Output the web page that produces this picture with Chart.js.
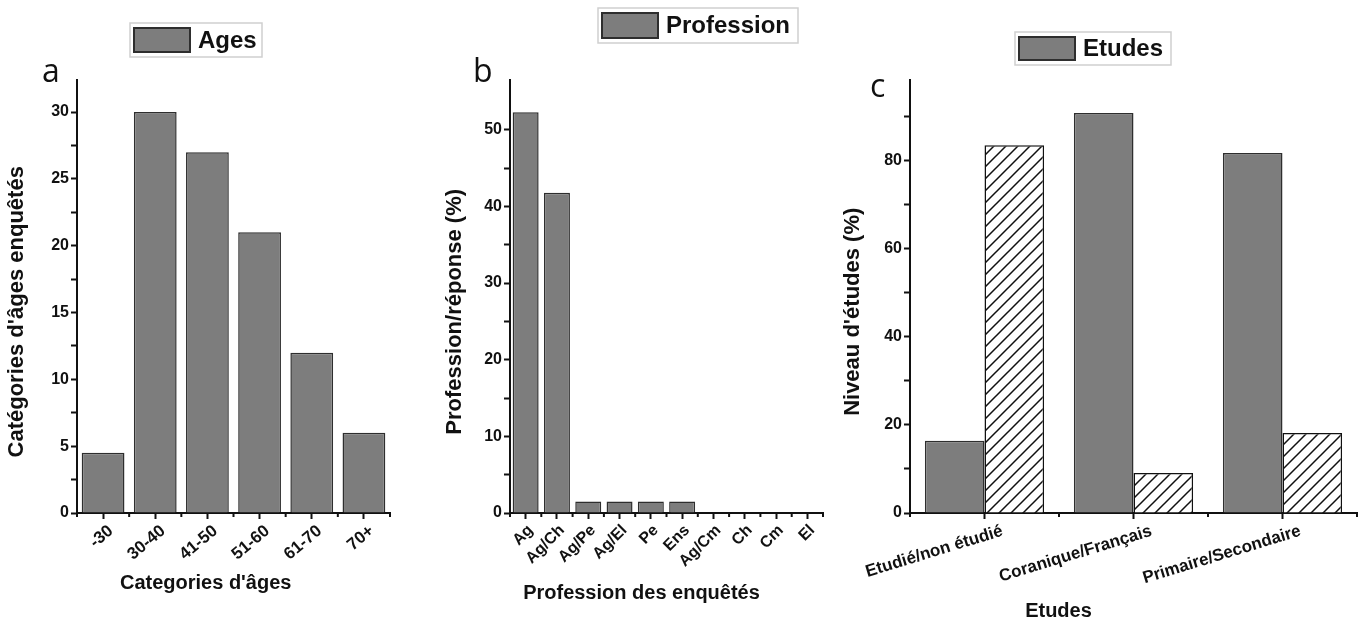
<!DOCTYPE html>
<html>
<head>
<meta charset="utf-8">
<script src="https://cdn.jsdelivr.net/npm/chart.js@4/dist/chart.umd.min.js"></script>
<style>
  html, body { margin: 0; padding: 0; background: #fff; }
  body { width: 1362px; height: 623px; position: relative; overflow: hidden; }
  .panel { position: absolute; top: 0; height: 623px; }
</style>
</head>
<body>
<div class="panel" style="left:0px;width:440px"><canvas id="ca"></canvas></div>
<div class="panel" style="left:440px;width:410px"><canvas id="cb"></canvas></div>
<div class="panel" style="left:840px;width:522px"><canvas id="cc"></canvas></div>
<script>
// ---------- DATA ----------
const ageCategories = ['-30', '30-40', '41-50', '51-60', '61-70', '70+'];
const ageValues = [4.5, 30, 27, 21, 12, 6];

const professionCategories = ['Ag', 'Ag/Ch', 'Ag/Pe', 'Ag/El', 'Pe', 'Ens', 'Ag/Cm', 'Ch', 'Cm', 'El'];
const professionValues = [52.3, 41.8, 1.5, 1.5, 1.5, 1.5, 0, 0, 0, 0];

const etudesCategories = ['Etudié/non étudié', 'Coranique/Français', 'Primaire/Secondaire'];
const etudesFirst = [16.4, 90.9, 81.8];
const etudesSecond = [83.6, 9.1, 18.2];

// ---------- STYLE ----------
const FONT = '"Liberation Sans", Arial, sans-serif';
const GRAY = '#7d7d7d';
const EDGE = '#2e2e2e';
const pad = (n) => ' '.repeat(n);

function hatchPattern() {
  const c = document.createElement('canvas');
  c.width = 12; c.height = 12;
  const g = c.getContext('2d');
  g.fillStyle = '#fff'; g.fillRect(0, 0, 12, 12);
  g.strokeStyle = '#111'; g.lineWidth = 1.5;
  g.beginPath();
  g.moveTo(-3, 15); g.lineTo(15, -3);
  g.moveTo(-3, 3); g.lineTo(3, -3);
  g.moveTo(9, 15); g.lineTo(15, 9);
  g.stroke();
  return g.createPattern(c, 'repeat');
}

const frameLegend = {
  id: 'frameLegend',
  afterDraw(chart, args, o) {
    const ctx = chart.ctx;
    const ds = chart.data.datasets[0];
    ctx.save();
    // minor x ticks at category boundaries
    const xs = chart.scales.x;
    ctx.strokeStyle = '#111'; ctx.lineWidth = 2;
    ctx.beginPath();
    for (let i = 0; i <= chart.data.labels.length; i++) {
      const px = xs.getPixelForValue(i - 0.5);
      ctx.moveTo(px, xs.top); ctx.lineTo(px, xs.top + 4);
    }
    ctx.stroke();
    // framed legend
    ctx.strokeStyle = '#cfcfcf'; ctx.lineWidth = 1.5;
    ctx.strokeRect(o.x, o.y, o.w, o.h);
    ctx.fillStyle = GRAY;
    ctx.fillRect(o.x + 4, o.y + 5, 56, o.h - 10);
    ctx.strokeStyle = EDGE; ctx.lineWidth = 2;
    ctx.strokeRect(o.x + 4, o.y + 5, 56, o.h - 10);
    ctx.fillStyle = '#111';
    ctx.font = 'bold 24px ' + FONT;
    ctx.textBaseline = 'middle';
    ctx.textAlign = 'left';
    ctx.fillText(ds.label, o.x + 68, o.y + o.h / 2 + 1);
    ctx.font = '32px "Open Sans", "Noto Sans", sans-serif';
    ctx.textBaseline = 'alphabetic';
    ctx.fillText(o.letter, o.lx, o.ly);
    ctx.restore();
  }
};

function makeChart(id, cfg) {
  const yW = cfg.yWidth, xH = 110;
  return new Chart(document.getElementById(id), {
    type: 'bar',
    data: { labels: cfg.labels, datasets: cfg.datasets },
    plugins: [frameLegend],
    options: {
      responsive: true,
      maintainAspectRatio: false,
      animation: false,
      layout: { padding: { top: 80, left: 0, right: cfg.right, bottom: 0 } },
      plugins: {
        legend: { display: false },
        tooltip: { enabled: false },
        frameLegend: cfg.legend
      },
      scales: {
        x: {
          afterFit(s) { s.height = xH; s.paddingLeft = 0; s.paddingRight = 0; },
          offset: true,
          grid: { display: true, drawOnChartArea: false, offset: false, tickLength: 6, tickWidth: 2, color: '#111' },
          border: { display: true, color: '#111', width: 2 },
          ticks: {
            color: '#111', font: { family: FONT, weight: 'bold', size: cfg.xFont },
            minRotation: cfg.rot, maxRotation: cfg.rot, autoSkip: false, padding: 2,
            labelOffset: cfg.labelOffset
          },
          title: {
            display: true, text: cfg.xTitle + pad(cfg.xShift), color: '#111',
            font: { family: FONT, weight: 'bold', size: 20 },
            padding: { top: 0, bottom: cfg.xTitlePad }
          }
        },
        y: {
          afterFit(s) { s.width = yW; s.paddingTop = 0; s.paddingBottom = 0; },
          min: 0, max: cfg.yMax,
          grid: {
            display: true, drawOnChartArea: false, tickLength: 6, tickWidth: 2,
            color: (c) => (c.tick && Math.abs(c.tick.value / cfg.minor - Math.round(c.tick.value / cfg.minor)) < 1e-6) ? '#111' : 'rgba(0,0,0,0)'
          },
          border: { display: true, color: '#111', width: 2 },
          ticks: {
            stepSize: cfg.minor, color: '#111', padding: 2,
            font: { family: FONT, weight: 'bold', size: 16 },
            callback: (v) => (Math.abs(v / cfg.major - Math.round(v / cfg.major)) < 1e-6) ? v : ''
          },
          title: {
            display: true, text: cfg.yTitle + pad(5), color: '#111',
            font: { family: FONT, weight: 'bold', size: cfg.yTitleFont },
            padding: { top: cfg.yTitlePad, bottom: 0 }
          }
        }
      }
    }
  });
}

makeChart('ca', {
  labels: ageCategories,
  datasets: [{ label: 'Ages', data: ageValues, backgroundColor: GRAY, borderColor: EDGE, borderWidth: 1.5,
               barPercentage: 0.82, categoryPercentage: 1 }],
  yWidth: 77, right: 50, yMax: 32.4, minor: 2.5, major: 5,
  xFont: 17, rot: 40, labelOffset: 8, xTitle: "Categories d'âges", xShift: 10, xTitlePad: 28,
  yTitle: "Catégories d'âges enquêtés", yTitleFont: 22, yTitlePad: 4,
  legend: { x: 130, y: 23, w: 132, h: 34, letter: 'a', lx: 42, ly: 82 }
});

makeChart('cb', {
  labels: professionCategories,
  datasets: [{ label: 'Profession', data: professionValues, backgroundColor: GRAY, borderColor: EDGE, borderWidth: 1.5,
               barPercentage: 0.83, categoryPercentage: 1 }],
  yWidth: 70, right: 27, yMax: 56.5, minor: 5, major: 10,
  xFont: 16, rot: 45, labelOffset: 5, xTitle: 'Profession des enquêtés', xShift: 9, xTitlePad: 18,
  yTitle: 'Profession/réponse (%)', yTitleFont: 22, yTitlePad: 2,
  legend: { x: 158, y: 8, w: 200, h: 35, letter: 'b', lx: 33, ly: 82 }
});

makeChart('cc', {
  labels: etudesCategories,
  datasets: [
    { label: 'Etudes', data: etudesFirst, backgroundColor: GRAY, borderColor: EDGE, borderWidth: 1.5,
      barPercentage: 1, categoryPercentage: 0.8 },
    { label: '', data: etudesSecond, backgroundColor: hatchPattern(), borderColor: '#111', borderWidth: 1.5,
      barPercentage: 1, categoryPercentage: 0.8 }
  ],
  yWidth: 70, right: 5, yMax: 98.4, minor: 10, major: 20,
  xFont: 17, rot: 17, labelOffset: 18, xTitle: 'Etudes', xShift: 27, xTitlePad: 0,
  yTitle: "Niveau d'études (%)", yTitleFont: 22, yTitlePad: 0,
  legend: { x: 175, y: 32, w: 156, h: 33, letter: 'c', lx: 30, ly: 97 }
});
</script>
</body>
</html>
